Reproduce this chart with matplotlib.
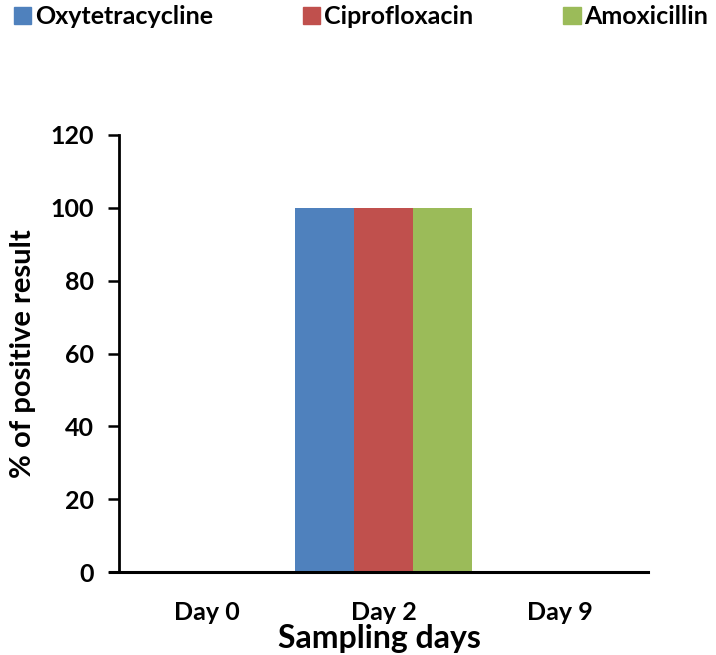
import numpy as np
import matplotlib.pyplot as plt
from matplotlib.patches import Patch

days = ['Day 0', 'Day 2', 'Day 9']
antibiotics = ['Oxytetracycline', 'Ciprofloxacin', 'Amoxicillin']
oxy = [0, 100, 0]
cipro = [0, 100, 0]
amox = [0, 100, 0]
colors = ['#4F81BD', '#C0504D', '#9BBB59']

plt.rcParams['font.family'] = ['Lato', 'DejaVu Sans']
plt.rcParams['font.weight'] = 'bold'

fig = plt.figure(figsize=(7.16, 6.55), dpi=100)
ax = fig.add_axes([110/716, 83/655, 538/716, 437/655])

x = np.arange(len(days))
w = 1/3
for i, (vals, c) in enumerate(zip([oxy, cipro, amox], colors)):
    ax.bar(x + (i - 1)*w, vals, width=w, color=c, edgecolor='none')

ax.set_xlim(-0.55, 2.5)
ax.set_ylim(0, 120)
ax.set_yticks(range(0, 121, 20))
ax.set_xticks(x)
ax.set_xticklabels(days)

for s in ['top', 'right']:
    ax.spines[s].set_visible(False)
ax.spines['left'].set_position(('data', -0.5))
ax.spines['left'].set_linewidth(2)
ax.spines['bottom'].set_linewidth(2.2)
ax.tick_params(axis='y', direction='out', length=8, width=1.8, labelsize=18, pad=10)
ax.tick_params(axis='x', length=0, labelsize=18, pad=21)

ax.set_xlabel('Sampling days', fontsize=23, fontweight='bold', labelpad=0)
ax.set_ylabel('% of positive result', fontsize=21, fontweight='bold', labelpad=10)

handles = [Patch(color=c) for c in colors]
fig.legend(handles, antibiotics, loc='upper left', bbox_to_anchor=(0.012, 1.0),
           ncol=3, frameon=False, fontsize=18, handlelength=0.7, handleheight=0.7,
           handletextpad=0.15, columnspacing=3.6, borderaxespad=0.0,
           borderpad=0.2)

fig.savefig('out.png', dpi=100)
